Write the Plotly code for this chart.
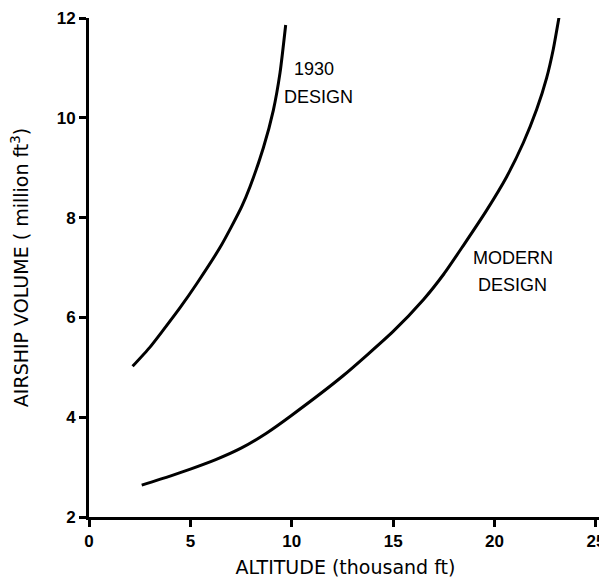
import plotly.graph_objects as go

# Data
altitude_1930 = [2.15, 3.0, 3.65, 4.5, 5.32, 6.46, 7.0, 7.53, 7.94, 8.6, 9.09, 9.42, 9.7]
volume_1930 = [5.02, 5.4, 5.74, 6.2, 6.68, 7.4, 7.8, 8.22, 8.62, 9.4, 10.15, 10.9, 11.86]

altitude_modern = [2.6, 4.0, 5.0, 6.25, 7.5, 8.75, 10.0, 12.5, 15.0, 16.5, 17.5, 18.46, 19.6, 20.6, 21.42, 22.08, 22.57, 22.9, 23.19]
volume_modern = [2.64, 2.82, 2.96, 3.15, 3.38, 3.68, 4.04, 4.82, 5.72, 6.36, 6.87, 7.44, 8.14, 8.82, 9.5, 10.17, 10.8, 11.38, 12.04]

x_ticks = [0, 5, 10, 15, 20, 25]
y_ticks = [2, 4, 6, 8, 10, 12]

fig = go.Figure()
fig.add_trace(go.Scatter(x=altitude_1930, y=volume_1930, mode="lines",
                         line=dict(color="black", width=3, shape="spline", smoothing=0.6),
                         showlegend=False, name="1930 DESIGN"))
fig.add_trace(go.Scatter(x=altitude_modern, y=volume_modern, mode="lines",
                         line=dict(color="black", width=3, shape="spline", smoothing=0.6),
                         showlegend=False, name="MODERN DESIGN"))

label_font = dict(family="Liberation Sans", size=18, color="black")
for txt, x, y in [("1930", 11.1, 10.98), ("DESIGN", 11.3, 10.42),
                  ("MODERN", 20.9, 7.2), ("DESIGN", 20.9, 6.65)]:
    fig.add_annotation(x=x, y=y, text=txt, showarrow=False, font=label_font,
                       xanchor="center", yanchor="middle")

tick_font = dict(family="Liberation Sans", size=17, color="black", weight="bold")
title_font = dict(family="DejaVu Sans", size=19, color="black")

fig.update_layout(
    width=607, height=580,
    margin=dict(l=81, r=13, t=10, b=71),
    paper_bgcolor="white", plot_bgcolor="white",
    xaxis=dict(range=[0, 25.3], tickvals=x_ticks, showgrid=False, zeroline=False,
               showline=True, linecolor="black", linewidth=3, automargin=False,
               ticks="outside", ticklen=7, tickwidth=3, tickcolor="black",
               tickfont=tick_font,
               title=dict(text="ALTITUDE (thousand ft)", standoff=11, font=title_font)),
    yaxis=dict(range=[2, 12], tickvals=y_ticks, showgrid=False, zeroline=False,
               showline=True, linecolor="black", linewidth=3, automargin=False,
               ticks="outside", ticklen=7, tickwidth=3, tickcolor="black",
               tickfont=tick_font,
               title=dict(text="AIRSHIP VOLUME ( million ft<sup>3</sup>)", standoff=27,
                          font=title_font)),
)

fig.write_html("out.html")
